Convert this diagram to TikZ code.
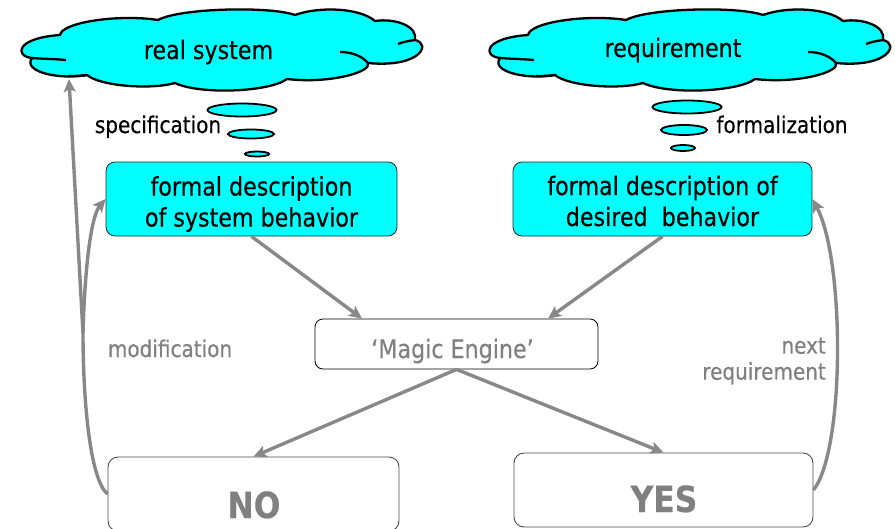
\documentclass[tikz,border=0pt]{standalone}
\usepackage{fontspec}
\setmainfont{DejaVu Sans}[FakeStretch=0.87,FakeBold=0.4]
\usetikzlibrary{shapes.geometric,arrows.meta}
\definecolor{cyanfill}{RGB}{0,255,255}
\definecolor{lgray}{RGB}{136,136,136}
\definecolor{tgray}{RGB}{128,128,128}
\tikzset{
  cloudline/.style={draw=black, line width=2.3pt, line join=round},
  pptcloud/.pic={
    \path[cloudline, fill=cyanfill]
      (32,58) .. controls (14,56) and (16,38) .. (60,35)
      .. controls (62,22) and (120,14) .. (158,20)
      .. controls (180,8) and (270,6) .. (295,15)
      .. controls (320,6) and (360,8) .. (375,21)
      .. controls (395,18) and (418,26) .. (415,40)
      .. controls (432,44) and (420,68) .. (368,63)
      .. controls (372,72) and (330,84) .. (287,79)
      .. controls (270,92) and (200,95) .. (175,83)
      .. controls (150,90) and (100,86) .. (87,75)
      .. controls (60,80) and (22,72) .. (32,58) -- cycle;
    \draw[cloudline] (32,58) .. controls (45,59) and (55,59) .. (66,60);
    \draw[cloudline] (368,63) .. controls (362,56) and (352,52) .. (340,52);
    \draw[cloudline] (415,40) .. controls (408,41) and (403,42) .. (398,44);
    \draw[cloudline] (87,75) .. controls (80,76) and (74,76) .. (68,76);
  },
  bubble/.style={ellipse, draw=black, line width=1.8pt, fill=cyanfill, inner sep=0pt},
  descbox/.style={draw=black!85, line width=0.8pt, fill=cyanfill, rounded corners=9pt,
    minimum height=74pt, inner sep=0pt},
  enginebox/.style={draw=black, line width=0.8pt, fill=white, rounded corners=8pt,
    minimum width=283pt, minimum height=50pt, inner sep=0pt},
  answerbox/.style={draw=black!70, line width=0.9pt, fill=white, rounded corners=10pt,
    minimum height=74pt, inner sep=0pt},
  maintext/.style={inner sep=0pt, align=center, font=\fontsize{25.5}{31}\selectfont},
  labeltext/.style={inner sep=0pt, font=\fontsize{23}{26}\selectfont},
  answertext/.style={inner sep=0pt, text=tgray, font=\fontsize{36}{40}\selectfont\bfseries},
  flow/.style={draw=lgray, line width=3.4pt, -{Stealth[length=13pt,width=12pt,inset=3pt]}},
}
\begin{document}
\begin{tikzpicture}[x=1pt,y=-1pt]
\useasboundingbox (0,0) rectangle (895,528);
\clip (0,0) rectangle (895,528);

% clouds
\pic at (0,0) {pptcloud};
\pic at (468,0) {pptcloud};
\node[maintext] (realsys) at (208.5,52) {real system};
\node[maintext] (reqtext) at (673,50) {requirement};

% thought bubbles
\node[bubble, minimum width=69pt, minimum height=13pt] (bL1) at (242,110) {};
\node[bubble, minimum width=46pt, minimum height=9pt] (bL2) at (251,134) {};
\node[bubble, minimum width=24pt, minimum height=5pt] (bL3) at (257,154) {};
\node[bubble, minimum width=69pt, minimum height=13pt] (bR1) at (687,107) {};
\node[bubble, minimum width=46pt, minimum height=10pt] (bR2) at (684,130) {};
\node[bubble, minimum width=24pt, minimum height=6pt] (bR3) at (683,148) {};
\node[labeltext, anchor=base] (spec) at (158,133) {specification};
\node[labeltext, anchor=base] (formal) at (782,133) {formalization};

% description boxes
\node[descbox, minimum width=291pt] (sysbox) at (251.5,199) {};
\node[maintext] (systext) at (251.5,204) {formal description\\of system behavior};
\node[descbox, minimum width=299pt] (reqbox) at (662.5,199) {};
\node[maintext] (reqboxtext) at (662.5,201) {formal description of\\desired\ \ behavior};

% engine
\node[enginebox] (magic) at (456.5,344) {};
\node[maintext, text=tgray, anchor=base] (magictext) at (452.5,358) {‘Magic Engine’};

% answers
\node[answerbox, minimum width=291pt] (no) at (253.5,494) {};
\node[answertext, anchor=base] (notext) at (254,518) {NO};
\node[answerbox, minimum width=299pt] (yes) at (663.5,490) {};
\node[answertext, anchor=base] (yestext) at (664,512) {YES};

% side labels
\node[labeltext, text=tgray, anchor=base] (modif) at (170,357) {modification};
\node[labeltext, text=tgray, align=right, anchor=east,
      font=\fontsize{23}{26}\selectfont] (nextreq) at (826,361) {next\\requirement};

% connectors
\coordinate (cloudhit) at (69,79);
\coordinate (split) at (83,333);
\draw[flow] (sysbox.south) -- ([xshift=-94.5pt]magic.north);
\draw[flow] (reqbox.south) -- ([xshift=91.5pt]magic.north);
\draw[flow] (magic.south) -- (no.north);
\draw[flow] (magic.south) -- (yes.north);
\draw[flow] (no.west) .. controls (90,480) and (83,400) .. (split) -- (cloudhit);
\draw[flow] (split) .. controls (85,260) and (92,215) .. (sysbox.west);
\draw[flow] (yes.east) .. controls (845,450) and (845,260) .. (reqbox.east);
\end{tikzpicture}
\end{document}
